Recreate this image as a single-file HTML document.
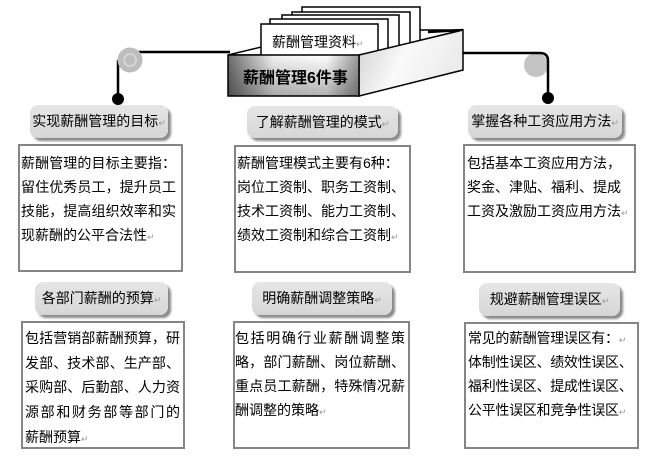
<!DOCTYPE html>
<html><head><meta charset="utf-8">
<style>
html,body{margin:0;padding:0;background:#fff;}
body{width:648px;height:467px;position:relative;overflow:hidden;font-family:"Liberation Sans","Noto Sans CJK SC",sans-serif;color:#000;}
.pill{position:absolute;border-radius:8px;background:linear-gradient(#e6e6e6,#d6d6d6);box-shadow:3px 3px 2px #8a8a8a;font-size:14px;line-height:33px;text-align:center;white-space:nowrap;}
.box{position:absolute;box-sizing:border-box;border:2px solid #858585;background:#fff;}
.t{position:absolute;font-size:14px;}
.t div{height:24px;line-height:24px;white-space:nowrap;}
.t div.j{text-align:justify;text-align-last:justify;}
.r{color:#999;font-size:9px;font-family:"DejaVu Sans",sans-serif;}
</style></head>
<body>
<svg width="648" height="110" style="position:absolute;left:0;top:0" xmlns="http://www.w3.org/2000/svg">
<defs>
<linearGradient id="fh" x1="0" x2="1" y1="0" y2="0"><stop offset="0" stop-color="#6e6e6e"/><stop offset="0.35" stop-color="#f2f2f2"/><stop offset="0.75" stop-color="#fff"/><stop offset="1" stop-color="#9a9a9a"/></linearGradient>
<linearGradient id="fv" x1="0" y1="0" x2="0" y2="1"><stop offset="0" stop-color="#000" stop-opacity="0"/><stop offset="1" stop-color="#000" stop-opacity="0.3"/></linearGradient>
<linearGradient id="sd" x1="0" y1="0" x2="1" y2="0.3"><stop offset="0" stop-color="#cfcfcf"/><stop offset="0.5" stop-color="#fafafa"/><stop offset="1" stop-color="#ececec"/></linearGradient>
</defs>
<line x1="130" y1="52" x2="230" y2="52" stroke="#000" stroke-width="2.5"/>
<line x1="118" y1="60" x2="118" y2="98" stroke="#000" stroke-width="2.5"/>
<circle cx="130" cy="60" r="12.5" fill="#bdbdbd"/>
<circle cx="130" cy="60" r="6" fill="none" stroke="#d4d4d4" stroke-width="2"/>
<circle cx="118" cy="99" r="6" fill="#000"/>
<circle cx="536" cy="65" r="12" fill="#c4c4c4"/>
<path d="M460 53 L540 53 Q548 53 548 61 L548 98" fill="none" stroke="#000" stroke-width="2.5"/>
<circle cx="548" cy="98" r="6" fill="#000"/>
<polygon points="228,55 359,55 463,30 332,30" fill="#fff" stroke="#000" stroke-width="1.5"/>
<rect x="302" y="7" width="118" height="50" fill="#fff" stroke="#000" stroke-width="1.5"/>
<rect x="292" y="12" width="118" height="48" fill="#fff" stroke="#000" stroke-width="1.5"/>
<rect x="282" y="15" width="117" height="45" fill="#fff" stroke="#000" stroke-width="1.5"/>
<rect x="270" y="19" width="118" height="40" fill="#fff" stroke="#000" stroke-width="1.5"/>
<rect x="261" y="24" width="117" height="33" fill="#fff" stroke="#000" stroke-width="1.5"/>
<text x="272" y="47" font-size="14" font-family="Liberation Sans, Noto Sans CJK SC, sans-serif">薪酬管理资料<tspan fill="#999" font-size="9">↵</tspan></text>
<line x1="428" y1="32" x2="463" y2="30" stroke="#000" stroke-width="2.5"/>
<polygon points="359,55 463,30 463,70 359,96" fill="url(#sd)" stroke="#000" stroke-width="1.5"/>
<rect x="228" y="55" width="131" height="41" fill="url(#fh)"/>
<rect x="228" y="55" width="131" height="41" fill="url(#fv)" stroke="#000" stroke-width="1.5"/>
<text x="243" y="83" font-size="16" font-weight="bold" font-family="Liberation Sans, Noto Sans CJK SC, sans-serif">薪酬管理6件事<tspan fill="#999" font-size="9" font-weight="normal">↵</tspan></text>
</svg>

<div class="pill" style="left:30px;top:105px;width:138px;height:33px;">实现薪酬管理的目标<span class="r">↵</span></div>
<div class="pill" style="left:247px;top:106px;width:151px;height:32px;line-height:32px;">了解薪酬管理的模式<span class="r">↵</span></div>
<div class="pill" style="left:468px;top:105px;width:154px;height:33px;">掌握各种工资应用方法<span class="r">↵</span></div>

<div class="box" style="left:18px;top:144px;width:165px;height:128px;"></div>
<div class="box" style="left:234px;top:145px;width:177px;height:128px;"></div>
<div class="box" style="left:463px;top:144px;width:173px;height:129px;"></div>

<div class="t" style="left:21px;top:151px;width:155px;">
<div class="j">薪酬管理的目标主要指：</div>
<div class="j">留住优秀员工，提升员工</div>
<div class="j">技能，提高组织效率和实</div>
<div>现薪酬的公平合法性<span class="r">↵</span></div>
</div>
<div class="t" style="left:237px;top:151px;width:166px;">
<div>薪酬管理模式主要有6种：</div>
<div class="j">岗位工资制、职务工资制、</div>
<div class="j">技术工资制、能力工资制、</div>
<div>绩效工资制和综合工资制<span class="r">↵</span></div>
</div>
<div class="t" style="left:467px;top:151px;width:154px;">
<div class="j">包括基本工资应用方法，</div>
<div class="j">奖金、津贴、福利、提成</div>
<div>工资及激励工资应用方法<span class="r">↵</span></div>
</div>

<div class="pill" style="left:35px;top:282px;width:133px;height:33px;">各部门薪酬的预算<span class="r">↵</span></div>
<div class="pill" style="left:252px;top:282px;width:140px;height:33px;">明确薪酬调整策略<span class="r">↵</span></div>
<div class="pill" style="left:479px;top:283px;width:141px;height:33px;">规避薪酬管理误区<span class="r">↵</span></div>

<div class="box" style="left:21px;top:321px;width:164px;height:128px;"></div>
<div class="box" style="left:233px;top:321px;width:177px;height:128px;"></div>
<div class="box" style="left:464px;top:322px;width:175px;height:127px;"></div>

<div class="t" style="left:25px;top:326px;width:155px;">
<div class="j" style="height:24.7px;line-height:24.7px;">包括营销部薪酬预算，研</div>
<div class="j" style="height:24.7px;line-height:24.7px;">发部、技术部、生产部、</div>
<div class="j" style="height:24.7px;line-height:24.7px;">采购部、后勤部、人力资</div>
<div class="j" style="height:24.7px;line-height:24.7px;">源部和财务部等部门的</div>
<div style="height:24.7px;line-height:24.7px;">薪酬预算<span class="r">↵</span></div>
</div>
<div class="t" style="left:235px;top:326px;width:170px;">
<div class="j">包括明确行业薪酬调整策</div>
<div class="j">略，部门薪酬、岗位薪酬、</div>
<div class="j">重点员工薪酬，特殊情况薪</div>
<div>酬调整的策略<span class="r">↵</span></div>
</div>
<div class="t" style="left:468px;top:326px;width:164px;letter-spacing:-0.3px;">
<div>常见的薪酬管理误区有：<span class="r">↵</span></div>
<div class="j">体制性误区、绩效性误区、</div>
<div class="j">福利性误区、提成性误区、</div>
<div>公平性误区和竞争性误区<span class="r">↵</span></div>
</div>
</body></html>
